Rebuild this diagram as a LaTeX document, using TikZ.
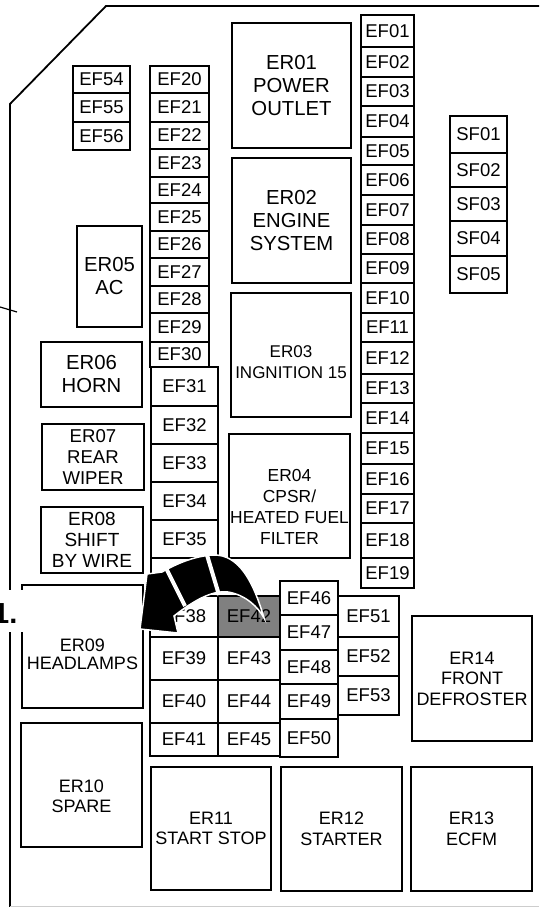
\documentclass[tikz,border=0pt]{standalone}
\usepackage{fontspec}
\setmainfont{Liberation Sans}
\usetikzlibrary{positioning}
\definecolor{fuseG}{RGB}{128,128,128}
\definecolor{edgeG}{RGB}{205,205,205}

\begin{document}
\begin{tikzpicture}[x=1pt,y=-1pt,
  fuse/.style={draw,line width=1.6pt,inner sep=0pt,font=\fontsize{18.5}{21}\selectfont},
  relay/.style={draw,line width=1.6pt,inner sep=0pt,align=center,font=\fontsize{18}{20.5}\selectfont},
  bigrelay/.style={relay,font=\fontsize{20.3}{23}\selectfont},
  tag/.style={inner sep=0pt,align=center,font=\fontsize{17.4}{21}\selectfont}]
\useasboundingbox (0,0) rectangle (539,907);
% housing
\draw[line width=1.8pt] (539,6) -- (106,6) -- (10,104) -- (10,907);
\draw[edgeG,line width=1pt] (10,906) -- (539,906);
\draw[line width=1.2pt] (0,307) -- (17,312);
% relays
\node[bigrelay,minimum width=119,minimum height=125] (er01) at (291.5,85.5) {ER01\\POWER\\OUTLET};
\node[bigrelay,minimum width=119,minimum height=125] (er02) at (291.5,220.5) {ER02\\ENGINE\\SYSTEM};
\node[relay,minimum width=120,minimum height=124] (er03) at (291,355) {};
\node[tag,font=\fontsize{17}{21}\selectfont] (er03t) at ([yshift=-7pt]er03.center) {ER03\\INGNITION 15};
\node[relay,minimum width=121,minimum height=124] (er04) at (289.5,496) {};
\node[tag] (er04t) at ([yshift=-11pt]er04.center) {ER04\\CPSR/\\HEATED FUEL\\FILTER};
\node[bigrelay,minimum width=65,minimum height=101] (er05) at (109.5,276.5) {ER05\\AC};
\node[bigrelay,minimum width=101,minimum height=65] (er06) at (91.5,374.5) {ER06\\HORN};
\node[relay,font=\fontsize{18.6}{20.7}\selectfont,minimum width=102,minimum height=66] (er07) at (93,457) {ER07\\REAR\\WIPER};
\node[relay,font=\fontsize{19}{21}\selectfont,minimum width=102,minimum height=66] (er08) at (92,540) {ER08\\SHIFT\\BY WIRE};
\node[relay,minimum width=121,minimum height=123] (er09) at (82.5,646.5) {};
\node[tag,font=\fontsize{18}{18}\selectfont] (er09t) at ([yshift=-8pt]er09.center) {ER09\\HEADLAMPS};
\node[relay,minimum width=121,minimum height=124] (er10) at (81.5,785) {};
\node[tag,font=\fontsize{18}{20}\selectfont] (er10t) at ([yshift=-11pt]er10.center) {ER10\\SPARE};
\node[relay,minimum width=120,minimum height=123] (er11) at (211,828.5) {ER11\\START STOP};
\node[relay,minimum width=121,minimum height=124] (er12) at (341.5,829) {ER12\\STARTER};
\node[relay,minimum width=121,minimum height=124] (er13) at (471.5,829) {ER13\\ECFM};
\node[relay,minimum width=120,minimum height=125] (er14) at (472,678.5) {ER14\\FRONT\\DEFROSTER};
% fuse columns
\foreach \n/\ya/\yb in {54/66/93,55/93/122,56/122/150}
  \node[fuse,minimum width=57,minimum height={\yb-\ya}] (ef\n) at (101.5,{(\ya+\yb)/2}) {EF\n};
\foreach \n/\ya/\yb in {20/66/93,21/93/122,22/122/149,23/149/177,24/177/203,25/203/231,26/231/258,27/258/286,28/286/313,29/313/342,30/342/367}
  \node[fuse,minimum width=59,minimum height={\yb-\ya}] (ef\n) at (179.5,{(\ya+\yb)/2}) {EF\n};
\foreach \n/\ya/\yb in {31/367/406,32/406/444,33/444/482,34/482/520,35/520/558,36/558/596}
  \node[fuse,minimum width=67,minimum height={\yb-\ya}] (ef\n) at (184.5,{(\ya+\yb)/2}) {EF\n};
\foreach \n/\ya/\yb in {01/15/47,02/47/77,03/77/106,04/106/137,05/137/165,06/165/195,07/195/225,08/225/254,09/254/283,10/283/313,11/313/342,12/342/374,13/374/403,14/403/433,15/433/464,16/464/494,17/494/523,18/523/558,19/558/588}
  \node[fuse,minimum width=53,minimum height={\yb-\ya}] (ef\n) at (387.5,{(\ya+\yb)/2}) {EF\n};
\foreach \n/\ya/\yb in {01/116/153,02/153/187,03/187/221,04/221/256,05/256/293}
  \node[fuse,minimum width=57,minimum height={\yb-\ya}] (sf\n) at (478.5,{(\ya+\yb)/2}) {SF\n};
% fuse grid
\foreach \n/\m/\ya/\yb in {38/42/596/637,39/43/637/680,40/44/680/723,41/45/723/756}{
  \node[fuse,minimum width=68,minimum height={\yb-\ya}] (ef\n) at (184,{(\ya+\yb)/2}) {EF\n};
  \node[fuse,minimum width=62,minimum height={\yb-\ya}] (ef\m) at (249,{(\ya+\yb)/2}) {EF\m};
}
\node[fuse,fill=fuseG,minimum width=62,minimum height=41] (ef42) at (249,616.5) {EF42};
\foreach \n/\ya/\yb in {46/581/615,47/615/650,48/650/684,49/684/719,50/719/757}
  \node[fuse,minimum width=58,minimum height={\yb-\ya}] (ef\n) at (309,{(\ya+\yb)/2}) {EF\n};
\foreach \n/\ya/\yb in {51/596/637,52/637/676,53/676/715}
  \node[fuse,minimum width=61,minimum height={\yb-\ya}] (ef\n) at (368.5,{(\ya+\yb)/2}) {EF\n};
% callout
\fill[white] (0,590) rectangle (140,632);
\begin{scope}
\clip (0,590) rectangle (140,632);
\node[anchor=base west,inner sep=0pt,font=\fontsize{29}{30}\selectfont\bfseries] (call) at (-7,623) {1.};
\end{scope}
% move arrow
\fill[black,draw=white,line width=1.5pt] (264,618)
  .. controls (254,584) and (240,554) .. (213,555)
  .. controls (194,556) and (176,564) .. (162,572)
  -- (147,574) -- (140,629) -- (178,633) -- (174,616)
  .. controls (193,601) and (212,590) .. (228,592)
  .. controls (246,595) and (258,607) .. (264,618) -- cycle;
\draw[white,line width=4pt] (165,566) -- (185,606);
\draw[white,line width=4pt] (207,555) -- (219,595);
\end{tikzpicture}
\end{document}
